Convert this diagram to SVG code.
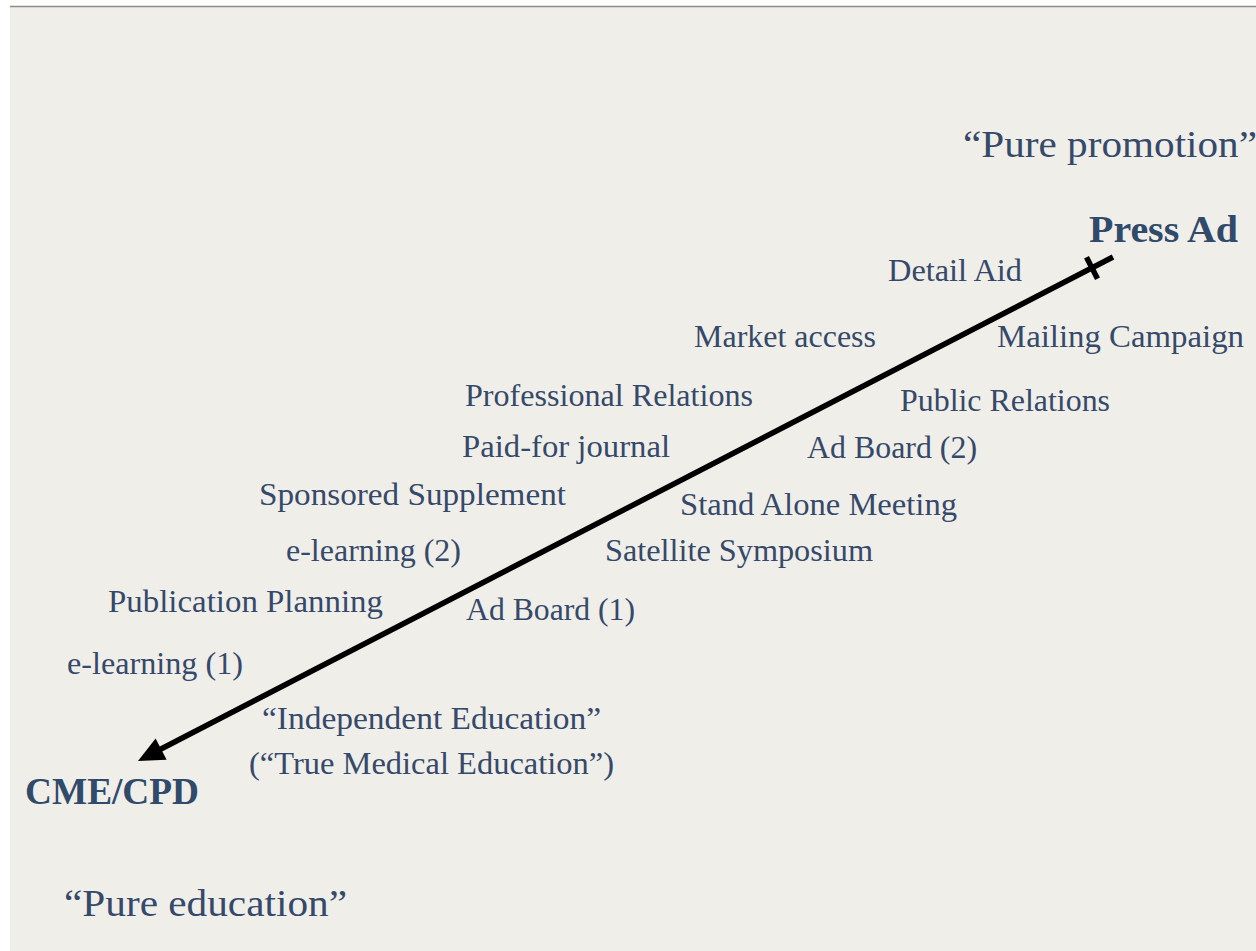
<svg xmlns="http://www.w3.org/2000/svg" width="1256" height="951" viewBox="0 0 1256 951">
<defs>
<style>
.lbl{font-family:"Liberation Serif","Times New Roman",serif;font-size:31px;fill:#35496a}
.big{font-family:"Liberation Serif","Times New Roman",serif;font-size:38px;fill:#35496a}
.bold{font-family:"Liberation Serif","Times New Roman",serif;font-size:38px;font-weight:bold;fill:#2f4a6a}
.axis{stroke:#000;stroke-width:5.5;fill:none}
</style>
</defs>
<rect x="0" y="0" width="1256" height="951" fill="#ffffff"/>
<rect x="10" y="7" width="1246" height="944" fill="#f0eee9"/>
<line x1="10" y1="6.5" x2="1256" y2="6.5" stroke="#8c8c88" stroke-width="1.5"/>
<g id="connectors">
<line class="axis" x1="1113" y1="257" x2="160" y2="749.5"/>
<line class="axis" x1="1086.5" y1="257.3" x2="1097.5" y2="278.7"/>
<polygon points="138,761 155.6,738.4 166.6,759.8" fill="#000"/>
</g>
<g id="pure-promotion"><text class="big" x="963" y="157" textLength="294" lengthAdjust="spacingAndGlyphs">“Pure promotion”</text></g>
<g id="press-ad"><text class="bold" x="1089" y="242" textLength="149" lengthAdjust="spacingAndGlyphs">Press Ad</text></g>
<g id="detail-aid"><text class="lbl" x="888" y="281" textLength="134" lengthAdjust="spacingAndGlyphs">Detail Aid</text></g>
<g id="market-access"><text class="lbl" x="694" y="347" textLength="182" lengthAdjust="spacingAndGlyphs">Market access</text></g>
<g id="mailing-campaign"><text class="lbl" x="997" y="347" textLength="247" lengthAdjust="spacingAndGlyphs">Mailing Campaign</text></g>
<g id="professional-relations"><text class="lbl" x="465" y="406" textLength="288" lengthAdjust="spacingAndGlyphs">Professional Relations</text></g>
<g id="public-relations"><text class="lbl" x="900" y="411" textLength="210" lengthAdjust="spacingAndGlyphs">Public Relations</text></g>
<g id="paid-for-journal"><text class="lbl" x="462" y="457" textLength="208" lengthAdjust="spacingAndGlyphs">Paid-for journal</text></g>
<g id="ad-board-2"><text class="lbl" x="807" y="458" textLength="170" lengthAdjust="spacingAndGlyphs">Ad Board (2)</text></g>
<g id="sponsored-supplement"><text class="lbl" x="259" y="505" textLength="307" lengthAdjust="spacingAndGlyphs">Sponsored Supplement</text></g>
<g id="stand-alone-meeting"><text class="lbl" x="680" y="515" textLength="277" lengthAdjust="spacingAndGlyphs">Stand Alone Meeting</text></g>
<g id="e-learning-2"><text class="lbl" x="286" y="561" textLength="175" lengthAdjust="spacingAndGlyphs">e-learning (2)</text></g>
<g id="satellite-symposium"><text class="lbl" x="605" y="561" textLength="268" lengthAdjust="spacingAndGlyphs">Satellite Symposium</text></g>
<g id="publication-planning"><text class="lbl" x="108" y="612" textLength="275" lengthAdjust="spacingAndGlyphs">Publication Planning</text></g>
<g id="ad-board-1"><text class="lbl" x="466" y="620" textLength="169" lengthAdjust="spacingAndGlyphs">Ad Board (1)</text></g>
<g id="e-learning-1"><text class="lbl" x="67" y="674" textLength="176" lengthAdjust="spacingAndGlyphs">e-learning (1)</text></g>
<g id="independent-education">
<text class="lbl" x="262" y="729" textLength="339" lengthAdjust="spacingAndGlyphs">“Independent Education”</text>
<text class="lbl" x="249" y="774" textLength="365" lengthAdjust="spacingAndGlyphs">(“True Medical Education”)</text>
</g>
<g id="cme-cpd"><text class="bold" x="25" y="804" textLength="174" lengthAdjust="spacingAndGlyphs">CME/CPD</text></g>
<g id="pure-education"><text class="big" x="64" y="916" textLength="283" lengthAdjust="spacingAndGlyphs">“Pure education”</text></g>
</svg>
